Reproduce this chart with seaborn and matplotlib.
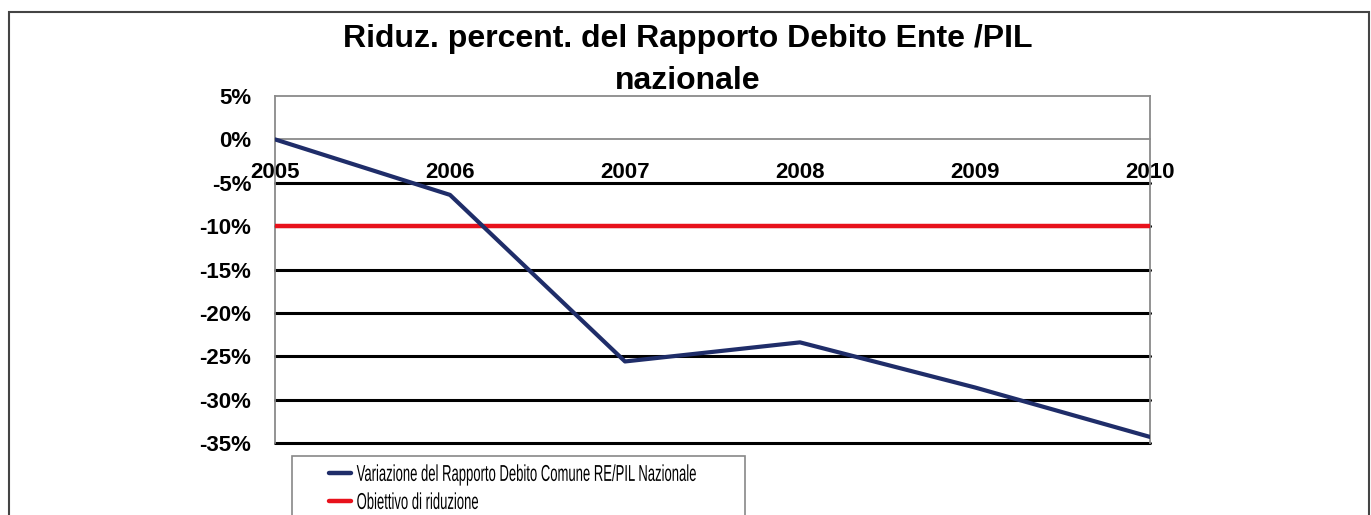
import matplotlib
matplotlib.use("Agg")
import matplotlib.pyplot as plt
import seaborn as sns
import pandas as pd
from matplotlib.patches import Rectangle
from matplotlib.patheffects import AbstractPathEffect
from matplotlib.transforms import Affine2D
from matplotlib.legend_handler import HandlerLine2D

# --- data ---
anni = [2005, 2006, 2007, 2008, 2009, 2010]
variazione = [0.0, -6.4, -25.6, -23.4, -28.6, -34.3]
obiettivo = [-10, -10, -10, -10, -10, -10]
y_ticks = [5, 0, -5, -10, -15, -20, -25, -30, -35]
y_labels = ["5%", "0%", "-5%", "-10%", "-15%", "-20%", "-25%", "-30%", "-35%"]

serie_var = "Variazione del Rapporto Debito Comune RE/PIL Nazionale"
serie_obj = "Obiettivo di riduzione"
blu = "#1f2d69"
rosso = "#e8121c"

df = pd.concat([
    pd.DataFrame({"anno": anni, "valore": variazione, "serie": serie_var}),
    pd.DataFrame({"anno": anni, "valore": obiettivo, "serie": serie_obj}),
], ignore_index=True)


class Condensed(AbstractPathEffect):
    """Squeeze glyphs horizontally (no narrow font installed)."""
    def __init__(self, sx):
        super().__init__()
        self.sx = sx

    def draw_path(self, renderer, gc, tpath, affine, rgbFace=None):
        renderer.draw_path(gc, tpath, Affine2D().scale(self.sx, 1) + affine, rgbFace)


sns.set_style("white")
plt.rcParams["font.family"] = ["Liberation Sans", "DejaVu Sans"]
plt.rcParams["text.color"] = "black"

fig = plt.figure(figsize=(13.71, 5.15), dpi=100)
ax = fig.add_axes([275 / 1371, 1 - 443 / 515, 875 / 1371, 347 / 515])

sns.lineplot(data=df, x="anno", y="valore", hue="serie",
             hue_order=[serie_var, serie_obj],
             palette={serie_var: blu, serie_obj: rosso},
             linewidth=3.0, ax=ax, legend=False)
lines = ax.get_lines()
lines[0].set_zorder(4)
lines[1].set_zorder(3)
lines[1].set_linewidth(3.2)

ax.set_xlim(anni[0], anni[-1])
ax.set_ylim(-35, 5)
ax.set_xlabel("")
ax.set_ylabel("")

# y axis
ax.set_yticks(y_ticks)
ax.set_yticklabels(y_labels, fontsize=16, fontweight="bold")
ax.tick_params(axis="y", direction="out", length=6, width=1.2,
               color="#8a8a8a", labelcolor="black", pad=11)

# x axis crosses at zero, labels just below it
ax.spines["bottom"].set_position(("data", 0))
ax.spines["bottom"].set_color("#8a8a8a")
ax.spines["bottom"].set_linewidth(1.3)
ax.set_xticks(anni)
ax.set_xticklabels([str(a) for a in anni], fontsize=16, fontweight="bold")
ax.tick_params(axis="x", direction="in", length=6, width=1.2,
               color="#8a8a8a", labelcolor="black", pad=16.5)

for side in ["left", "right", "top"]:
    ax.spines[side].set_color("#8a8a8a")
    ax.spines[side].set_linewidth(1.3)

# horizontal gridlines: black below zero
ax.yaxis.grid(True, color="black", linewidth=2.2)
for val, gl in zip(y_ticks, ax.get_ygridlines()):
    if val >= 0:
        gl.set_visible(False)
    gl.set_clip_on(False)
ax.set_axisbelow(True)

# title, two lines
fig.text(0.5015, 1 - 47 / 515, "Riduz. percent. del Rapporto Debito Ente /PIL",
         ha="center", va="baseline", fontsize=23, fontweight="bold")
fig.text(0.5015, 1 - 89 / 515, "nazionale",
         ha="center", va="baseline", fontsize=23, fontweight="bold")

# legend
handles = [plt.Line2D([], [], color=blu, linewidth=3.2),
           plt.Line2D([], [], color=rosso, linewidth=3.2)]
leg = fig.legend(handles, [serie_var, serie_obj],
                 loc="upper left",
                 bbox_to_anchor=(292 / 1371, 1 - 456 / 515, 453 / 1371, 0),
                 mode="expand", frameon=True, fancybox=False, fontsize=16.5,
                 handlelength=2.27, handletextpad=0.25, borderpad=0.3,
                 labelspacing=0.22, borderaxespad=0,
                 handler_map={plt.Line2D: HandlerLine2D(xpad=1.3)})
leg.get_frame().set_edgecolor("#6a6a6a")
leg.get_frame().set_linewidth(1.2)
for t in leg.get_texts():
    t.set_path_effects([Condensed(0.57)])

# outer frame of the chart area
fig.patches.append(Rectangle((9 / 1371, -0.05), (1369 - 9) / 1371, 1.05 - 12 / 515,
                             transform=fig.transFigure, fill=False,
                             edgecolor="#444444", linewidth=1.5, clip_on=False))

fig.savefig("out.png", dpi=100)
